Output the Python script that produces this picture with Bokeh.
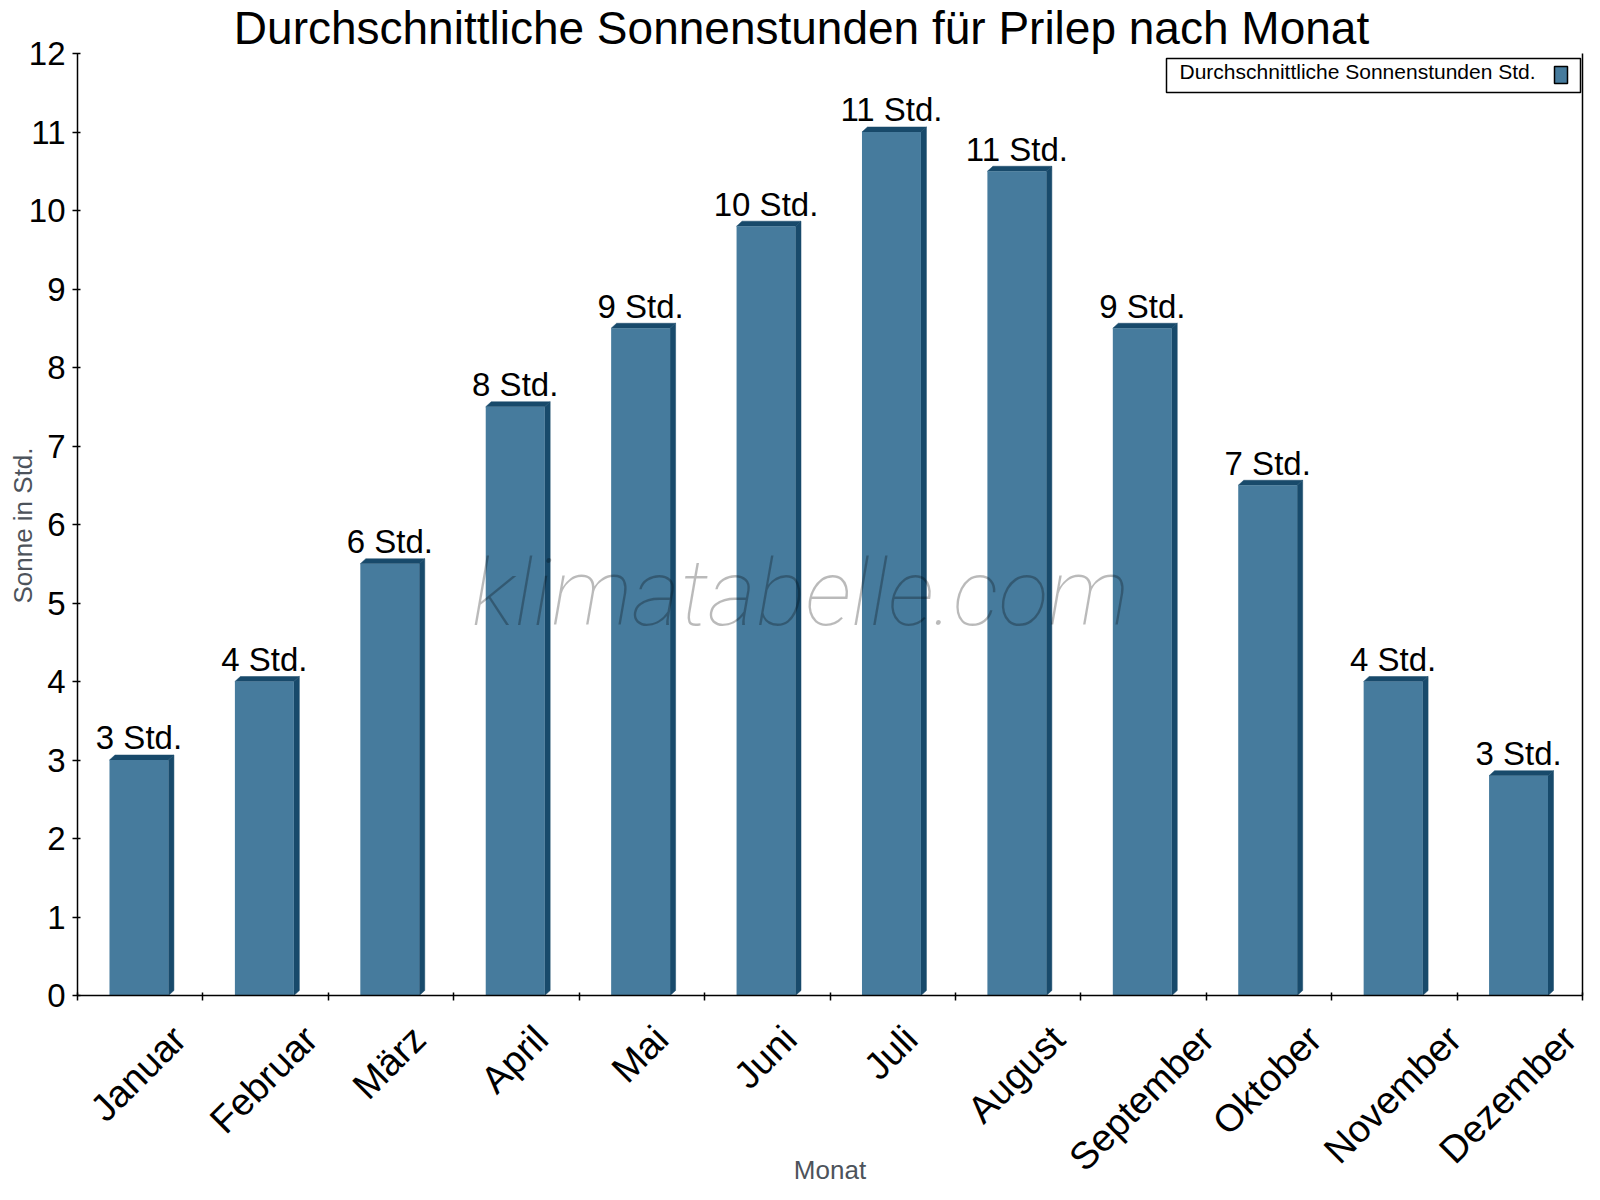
import math
from bokeh.plotting import figure
from bokeh.models import (Range1d, FixedTicker, Label, BoxAnnotation,
                          ColumnDataSource, LinearAxis)
from bokeh.core.properties import value
from bokeh.embed import file_html
from bokeh.resources import INLINE

months = ["Januar", "Februar", "März", "April", "Mai", "Juni", "Juli",
          "August", "September", "Oktober", "November", "Dezember"]
sun_hours = [3.0, 4.0, 5.5, 7.5, 8.5, 9.8, 11.0, 10.5, 8.5, 6.5, 4.0, 2.8]
y_ticks = list(range(0, 13))
y_max = 12

title_text = "Durchschnittliche Sonnenstunden für Prilep nach Monat"
y_label = "Sonne in Std."
x_label = "Monat"
legend_label = "Durchschnittliche Sonnenstunden Std."
watermark = "klimatabelle.com"

FONT = "Liberation Sans"
FRONT = "#467B9D"
DARK = "#184A6B"
AXIS_TITLE = "#4D535B"

W, H = 1584, 1184
n = len(months)
# pixel placement of the data area inside the canvas
FX0, FX1 = 77, 1582     # x = 0 and x = n
FY0, FY1 = 995, 53      # y = 0 and y = y_max (from top)
ppx = (FX1 - FX0) / n
ppy = (FY0 - FY1) / y_max

p = figure(width=W, height=H, output_backend="svg", toolbar_location=None,
           x_range=Range1d(-FX0 / ppx, n + (W - FX1) / ppx),
           y_range=Range1d(-(H - FY0) / ppy, y_max + FY1 / ppy),
           min_border=0, min_border_left=0, min_border_right=0,
           min_border_top=0, min_border_bottom=0,
           x_axis_type=None, y_axis_type=None)
p.outline_line_color = None
p.background_fill_color = "white"
p.border_fill_color = "white"

BASE_SHIFT = 0.335  # alphabetic baseline compensation (fraction of font size)


def sy(ry):  # y from top -> screen y from bottom
    return H - ry


# y axis
yax = LinearAxis(ticker=FixedTicker(ticks=y_ticks), fixed_location=0, bounds=(0, y_max))
yax.axis_line_color = "black"
yax.axis_line_width = 1.5
yax.major_tick_in = 3
yax.major_tick_out = 5
yax.major_tick_line_color = "black"
yax.major_tick_line_width = 1.5
yax.minor_tick_line_color = None
yax.major_label_standoff = 7
yax.major_label_text_font = FONT
yax.major_label_text_font_size = "33px"
yax.major_label_text_color = "black"
p.add_layout(yax, "left")

# x axis: ticks at category boundaries, rotated labels centred on each category
XFS = 38
CHAR_W = {"J": .5, "a": .556, "n": .556, "u": .556, "r": .333, "F": .611, "e": .556,
          "b": .556, "M": .833, "ä": .556, "z": .5, "A": .667, "p": .556, "i": .222,
          "l": .222, "o": .556, "t": .278, "g": .556, "S": .667, "m": .833, "O": .778,
          "k": .5, "N": .722, "v": .5, "D": .722, "s": .5}
label_pos = []
for i, m in enumerate(months):
    L = sum(CHAR_W.get(c, .556) for c in m) * XFS
    label_pos.append(i + 0.5 + (0.354 * L - 2) / ppx)
xax = LinearAxis(ticker=FixedTicker(ticks=label_pos, minor_ticks=list(range(n + 1))),
                 fixed_location=0, bounds=(0, n))
xax.major_label_overrides = {t: m for t, m in zip(label_pos, months)}
xax.axis_line_color = "black"
xax.axis_line_width = 1.5
xax.major_tick_line_color = None
xax.minor_tick_line_color = "black"
xax.minor_tick_line_width = 1.5
xax.minor_tick_in = 3
xax.minor_tick_out = 5
xax.major_label_orientation = math.pi / 4
xax.major_label_standoff = 31
xax.major_label_text_font = FONT
xax.major_label_text_font_size = f"{XFS}px"
xax.major_label_text_color = "black"
p.add_layout(xax, "below")

# grid
p.ygrid.ticker = FixedTicker(ticks=y_ticks)
p.ygrid.bounds = (0, n)
p.ygrid.grid_line_color = "#C8C8C8"
p.ygrid.grid_line_dash = "2 4"
p.ygrid.grid_line_width = 1
p.xgrid.grid_line_color = None

# right border line of the plot area
p.segment(x0=[n], y0=[0], x1=[n], y1=[y_max], line_color="black", line_width=1.5)

# 3D bars
bw = 0.47
dx = 5.5 / ppx
dy = 5.0 / ppy
centers = [i + 0.49 for i in range(n)]
x0 = [c - bw / 2 for c in centers]
x1 = [c + bw / 2 for c in centers]
top_xs, top_ys, side_xs, side_ys = [], [], [], []
for a, b, v in zip(x0, x1, sun_hours):
    top_xs.append([a, a + dx, b + dx, b])
    top_ys.append([v, v + dy, v + dy, v])
    side_xs.append([b, b + dx, b + dx, b])
    side_ys.append([v, v + dy, dy, 0])
p.patches(top_xs, top_ys, fill_color=DARK, line_color=DARK, line_width=0.5)
p.patches(side_xs, side_ys, fill_color=DARK, line_color=DARK, line_width=0.5)

BFS = 33
src = ColumnDataSource(dict(x=centers, top=sun_hours,
                            ly=[v + (11 + BASE_SHIFT * BFS) / ppy for v in sun_hours],
                            lab=[f"{math.floor(v + 0.5)} Std." for v in sun_hours]))
p.vbar(x="x", top="top", bottom=0, width=bw, source=src,
       fill_color=FRONT, line_color=None)
p.text(x="x", y="ly", text="lab", source=src, text_align="center",
       text_baseline="alphabetic", text_font=value(FONT),
       text_font_size=f"{BFS}px", text_color="black")

# watermark
WFS = 93
p.add_layout(Label(x=800, y=sy(624 - BASE_SHIFT * WFS), x_units="screen", y_units="screen",
                   text=watermark, text_align="center", text_baseline="alphabetic",
                   text_font="'Roboto Thin', 'Roboto Light', Roboto",
                   text_font_style="italic", text_font_size=f"{WFS}px",
                   text_color="black", text_alpha=0.27))

# title & axis titles
TFS = 46
p.add_layout(Label(x=801, y=sy(43 - BASE_SHIFT * TFS), x_units="screen", y_units="screen",
                   text=title_text, text_align="center", text_baseline="alphabetic",
                   text_font=FONT, text_font_size=f"{TFS}px", text_color="black"))
p.add_layout(Label(x=22, y=sy(525), x_units="screen", y_units="screen",
                   text=y_label, text_align="center", text_baseline="middle",
                   angle=math.pi / 2, text_font=FONT,
                   text_font_size="26px", text_color=AXIS_TITLE))
p.add_layout(Label(x=(FX0 + FX1) / 2, y=sy(1169), x_units="screen", y_units="screen",
                   text=x_label, text_align="center", text_baseline="middle",
                   text_font=FONT, text_font_size="26px", text_color=AXIS_TITLE))

# legend (text left, swatch right)
p.add_layout(BoxAnnotation(left=1166, right=1580, top=sy(58), bottom=sy(92),
                           left_units="screen", right_units="screen",
                           top_units="screen", bottom_units="screen",
                           fill_color="white", fill_alpha=1.0,
                           line_color="black", line_alpha=1.0, line_width=1.5))
p.add_layout(BoxAnnotation(left=1554, right=1567, top=sy(66), bottom=sy(83),
                           left_units="screen", right_units="screen",
                           top_units="screen", bottom_units="screen",
                           fill_color=FRONT, fill_alpha=1.0,
                           line_color="black", line_alpha=1.0, line_width=1.5))
LFS = 21
p.add_layout(Label(x=1179, y=sy(78 - BASE_SHIFT * LFS), x_units="screen", y_units="screen",
                   text=legend_label, text_align="left", text_baseline="alphabetic",
                   text_font=FONT, text_font_size=f"{LFS}px", text_color="black"))

open("out.html", "w").write(file_html(p, INLINE))
